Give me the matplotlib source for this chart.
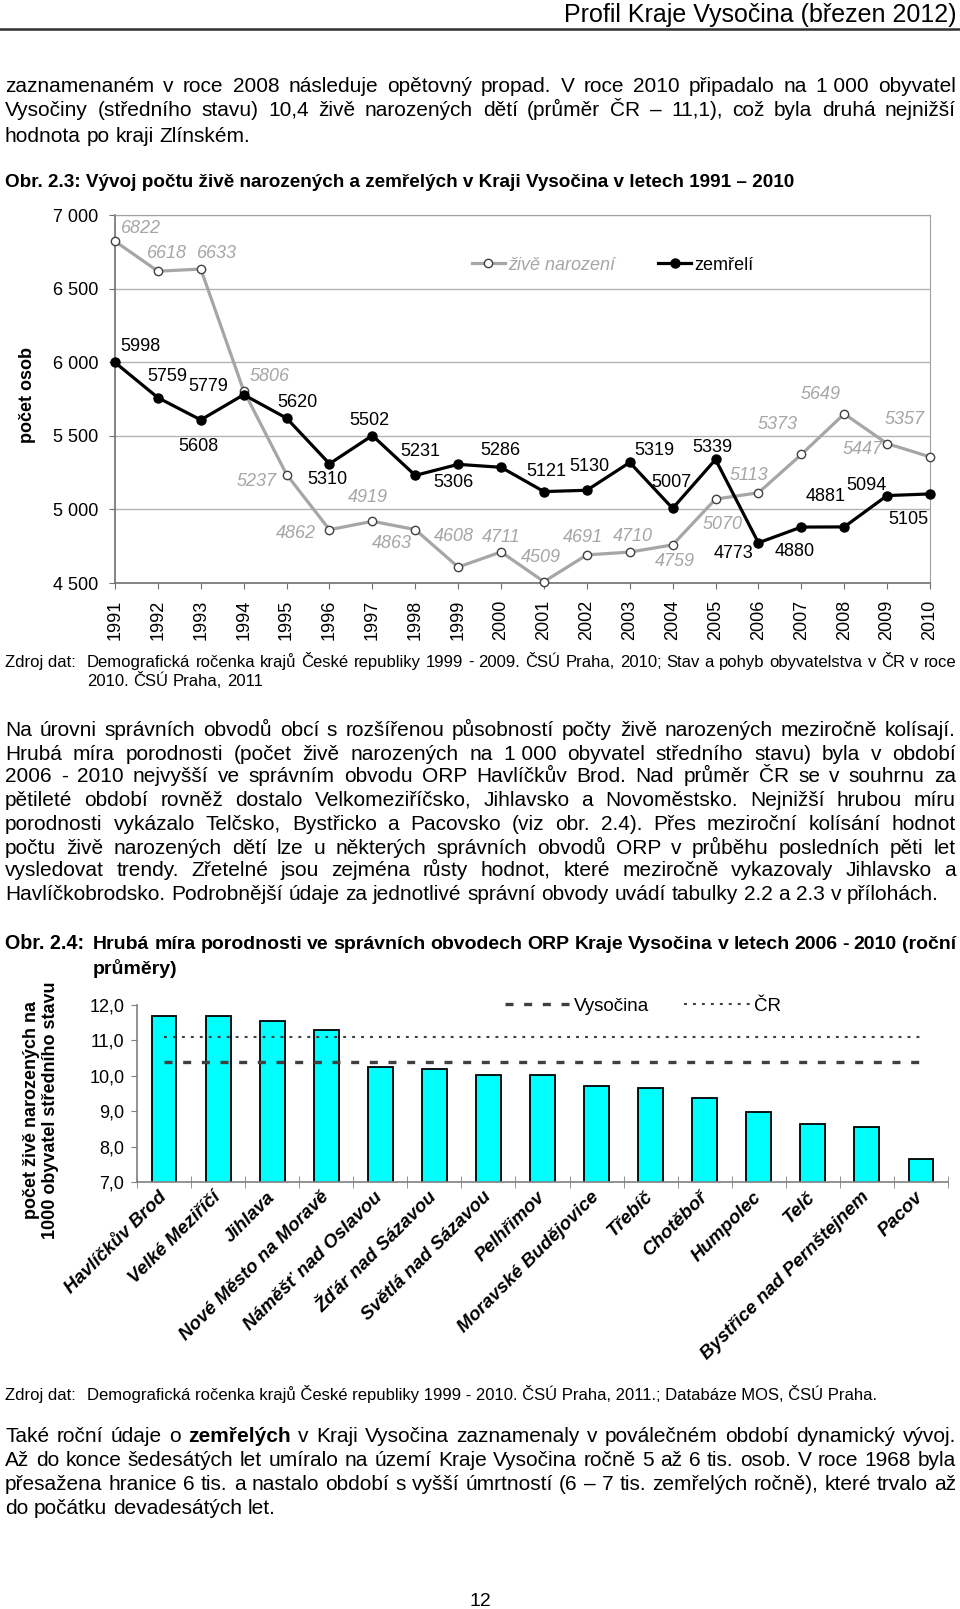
import numpy as np
import matplotlib
matplotlib.use('Agg')
from matplotlib import pyplot as plt
from matplotlib.lines import Line2D

plt.rcParams['font.family'] = ['Liberation Sans', 'DejaVu Sans']

# --- data -------------------------------------------------------------
years = np.arange(1991, 2011)
births = [6822, 6618, 6633, 5806, 5237, 4862, 4919, 4863, 4608, 4711,
          4509, 4691, 4710, 4759, 5070, 5113, 5373, 5649, 5447, 5357]
deaths = [5998, 5759, 5608, 5779, 5620, 5310, 5502, 5231, 5306, 5286,
          5121, 5130, 5319, 5007, 5339, 4773, 4880, 4881, 5094, 5105]

orp = ['Havlíčkův Brod', 'Velké Meziříčí', 'Jihlava', 'Nové Město na Moravě',
       'Náměšť nad Oslavou', 'Žďár nad Sázavou', 'Světlá nad Sázavou',
       'Pelhřimov', 'Moravské Budějovice', 'Třebíč', 'Chotěboř', 'Humpolec',
       'Telč', 'Bystřice nad Pernštejnem', 'Pacov']
rates = [11.70, 11.70, 11.55, 11.30, 10.24, 10.19, 10.02, 10.02, 9.71, 9.66,
         9.37, 8.97, 8.63, 8.55, 7.66]
rate_vysocina = 10.4
rate_cr = 11.1

par1 = ['zaznamenaném v roce 2008 následuje opětovný propad. V roce 2010 připadalo na 1\u00a0000 obyvatel',
        'Vysočiny (středního stavu) 10,4 živě narozených dětí (průměr ČR – 11,1), což byla druhá nejnižší',
        'hodnota po kraji Zlínském.']
par2 = ['Na úrovni správních obvodů obcí s rozšířenou působností počty živě narozených meziročně kolísají.',
        'Hrubá míra porodnosti (počet živě narozených na 1\u00a0000 obyvatel středního stavu) byla v období',
        '2006 - 2010 nejvyšší ve správním obvodu ORP Havlíčkův Brod. Nad průměr ČR se v souhrnu za',
        'pětileté období rovněž dostalo Velkomeziříčsko, Jihlavsko a Novoměstsko. Nejnižší hrubou míru',
        'porodnosti vykázalo Telčsko, Bystřicko a Pacovsko (viz obr. 2.4). Přes meziroční kolísání hodnot',
        'počtu živě narozených dětí lze u některých správních obvodů ORP v průběhu posledních pěti let',
        'vysledovat trendy. Zřetelné jsou zejména růsty hodnot, které meziročně vykazovaly Jihlavsko a',
        'Havlíčkobrodsko. Podrobnější údaje za jednotlivé správní obvody uvádí tabulky 2.2 a 2.3 v přílohách.']
par3 = ['Také roční údaje o zemřelých v Kraji Vysočina zaznamenaly v poválečném období dynamický vývoj.',
        'Až do konce šedesátých let umíralo na území Kraje Vysočina ročně 5 až 6 tis. osob. V roce 1968 byla',
        'přesažena hranice 6 tis. a nastalo období s vyšší úmrtností (6 – 7 tis. zemřelých ročně), které trvalo až',
        'do počátku devadesátých let.']

# label offsets (pixels) for the data labels of chart 1
off_b = [(26, 13), (9, 18), (16, 16), (26, 14), (-30, -7), (-34, -4), (-4, 24),
         (-23, -14), (-4, 31), (0, 14), (-3, 24), (-4, 17), (3, 16), (2, -17),
         (7, -25), (-10, 17), (-24, 30), (-24, 19), (-25, -6), (-25, 37)]
off_d = [(25, 16), (9, 21), (-2, -27), (-35, 8), (11, 16), (-2, -16), (-3, 15),
         (5, 24), (-5, -18), (-1, 17), (2, 20), (3, 24), (25, 12), (-1, 26),
         (-3, 12), (-25, -11), (-7, -24), (-19, 30), (-21, 10), (-22, -26)]

# --- page -------------------------------------------------------------
W, H = 960, 1609
fig = plt.figure(figsize=(W / 100, H / 100), dpi=100)
renderer = fig.canvas.get_renderer()
BODY = 15


def rect(x0, y0, x1, y1):
    return [x0 / W, 1 - y1 / H, (x1 - x0) / W, (y1 - y0) / H]


def put(x, y, s, size=13, **kw):
    # y is the visual middle of the text line, converted to a baseline
    if 'rotation' in kw:
        return fig.text(x / W, 1 - y / H, s, fontsize=size, **kw)
    yb = round(y + 0.36 * size * 100 / 72)
    return fig.text(x / W, 1 - yb / H, s, fontsize=size, va='baseline', **kw)


def line(s, y, x0=5, x1=956, size=BODY, just=True, weight='normal', bold=()):
    words = s.split(' ')
    objs = [put(x0, y, w, size=size,
                fontweight='bold' if w in bold else weight) for w in words]
    ws = [o.get_window_extent(renderer).width for o in objs]
    gap = 0.278 * size * 100 / 72
    if just and len(words) > 1:
        gap = (x1 - x0 - sum(ws)) / (len(words) - 1)
    x = x0
    for o, w in zip(objs, ws):
        o.set_x(x / W)
        x += w + gap


def paragraph(lines, ys, bold=None, **kw):
    bold = bold or {}
    for i, (s, y) in enumerate(zip(lines, ys)):
        line(s, y, just=i < len(lines) - 1, bold=bold.get(i, ()), **kw)


put(956, 13, 'Profil Kraje Vysočina (březen 2012)', size=18, ha='right')
fig.add_artist(Line2D([0, 1], [1 - 29 / H] * 2, transform=fig.transFigure,
                      color='#303030', lw=1.8))

paragraph(par1, [85, 109, 134])
put(5, 180, 'Obr. 2.3: Vývoj počtu živě narozených a zemřelých v Kraji Vysočina v letech 1991 – 2010',
    size=13.6, fontweight='bold')

# --- chart 1 ----------------------------------------------------------
gray = '#a6a6a6'
ax1 = fig.add_axes(rect(115, 215, 930, 583))
l_b, = ax1.plot(years, births, color=gray, lw=2.3, marker='o', ms=6,
                mfc='white', mec='#404040', mew=1.0, clip_on=False, zorder=3,
                label='živě narození')
l_d, = ax1.plot(years, deaths, color='black', lw=2.3, marker='o', ms=6.5,
                clip_on=False, zorder=4, label='zemřelí')
for yr, v, o in zip(years, births, off_b):
    ax1.annotate(str(v), (yr, v), xytext=o, textcoords='offset pixels',
                 ha='center', va='center', fontsize=13, color=gray,
                 fontstyle='italic')
for yr, v, o in zip(years, deaths, off_d):
    ax1.annotate(str(v), (yr, v), xytext=o, textcoords='offset pixels',
                 ha='center', va='center', fontsize=13, color='black')

ax1.set_xlim(years[0], years[-1])
ax1.set_ylim(4500, 7000)
yt = np.arange(4500, 7001, 500)
ax1.set_yticks(yt, [f'{v:,}'.replace(',', ' ') for v in yt])
ax1.set_xticks(years, [str(y) for y in years], rotation=90)
ax1.tick_params(axis='both', labelsize=13, length=4, color='#707070')
ax1.tick_params(axis='y', pad=8)
ax1.tick_params(axis='x', pad=8)
ax1.yaxis.grid(True, color='#b3b3b3', lw=1)
ax1.set_axisbelow(True)
for s in ['top', 'right']:
    ax1.spines[s].set_color('#a0a0a0')
for s in ['left', 'bottom']:
    ax1.spines[s].set_color('#707070')
    ax1.spines[s].set_linewidth(1.2)

leg = ax1.legend(handles=[l_b, l_d], loc='center left',
                 bbox_to_anchor=((472 - 115) / 815, (583 - 265) / 368),
                 ncol=2, frameon=False, fontsize=13, handlelength=1.8,
                 handletextpad=0.2, columnspacing=2.4, borderaxespad=0,
                 borderpad=0)
t0 = leg.get_texts()[0]
t0.set_color(gray)
t0.set_fontstyle('italic')

put(28, 395, 'počet osob', size=13, rotation=90, fontweight='bold',
    ha='center', va='center')

put(5, 661, 'Zdroj dat:', size=12)
line('Demografická ročenka krajů České republiky 1999 - 2009. ČSÚ Praha, 2010; Stav a pohyb obyvatelstva v ČR v roce',
     661, x0=87, size=12)
line('2010. ČSÚ Praha, 2011', 680, x0=87, size=12, just=False)

paragraph(par2, [728, 752, 775, 799, 822, 846, 869, 893])

put(5, 942, 'Obr. 2.4:', size=14.2, fontweight='bold')
line('Hrubá míra porodnosti ve správních obvodech ORP Kraje Vysočina v letech 2006 - 2010 (roční',
     942, x0=93, size=14, weight='bold')
line('průměry)', 967, x0=93, size=14, weight='bold', just=False)

# --- chart 2 ----------------------------------------------------------
ax2 = fig.add_axes(rect(137, 1005, 948, 1182))
x = np.arange(len(orp))
ax2.bar(x, rates, width=0.46, color='#00ffff', edgecolor='black', lw=1.3,
        zorder=2)
l_cr, = ax2.plot(x, np.full(len(x), rate_cr), color='#404040', lw=1.5,
                 dashes=(1.4, 2.9), label='ČR', zorder=3)
l_vy, = ax2.plot(x, np.full(len(x), rate_vysocina), color='#404040', lw=2.4,
                 dashes=(2.4, 3.2), label='Vysočina', zorder=3)
ax2.set_xlim(-0.5, len(x) - 0.5)
ax2.set_ylim(7, 12)
yt2 = np.arange(7, 13)
ax2.set_yticks(yt2, [f'{v:.1f}'.replace('.', ',') for v in yt2])
ax2.tick_params(axis='y', labelsize=13, length=4, pad=5, color='#808080')
ax2.set_xticks(x, orp, rotation=45, ha='right', va='center',
               rotation_mode='anchor', fontsize=13.5, fontweight='bold',
               fontstyle='italic')
ax2.set_xticks(np.arange(-0.5, len(x), 1), minor=True)
ax2.tick_params(axis='x', which='major', length=0, pad=9)
ax2.tick_params(axis='x', which='minor', length=9, direction='inout',
                color='#808080')
for s in ['top', 'right']:
    ax2.spines[s].set_visible(False)
for s in ['left', 'bottom']:
    ax2.spines[s].set_color('#808080')
    ax2.spines[s].set_linewidth(1.2)

ax2.legend(handles=[l_vy, l_cr], loc='center left',
           bbox_to_anchor=((505 - 137) / 811, (1182 - 1006) / 177),
           ncol=2, frameon=False, fontsize=13.5, handlelength=3.5,
           handletextpad=0.2, columnspacing=1.85, borderaxespad=0,
           borderpad=0)

put(41, 1110, 'počet živě narozených na\n1000 obyvatel středního stavu',
    size=13, rotation=90, fontweight='bold', ha='center', va='center',
    multialignment='center')

put(5, 1394, 'Zdroj dat:', size=12)
put(87, 1394, 'Demografická ročenka krajů České republiky 1999 - 2010. ČSÚ Praha, 2011.; Databáze MOS, ČSÚ Praha.',
    size=12)

paragraph(par3, [1434, 1458, 1482, 1506], bold={0: ('zemřelých',)})

put(480, 1599, '12', size=14, ha='center')

fig.savefig('out.png', dpi=100)
